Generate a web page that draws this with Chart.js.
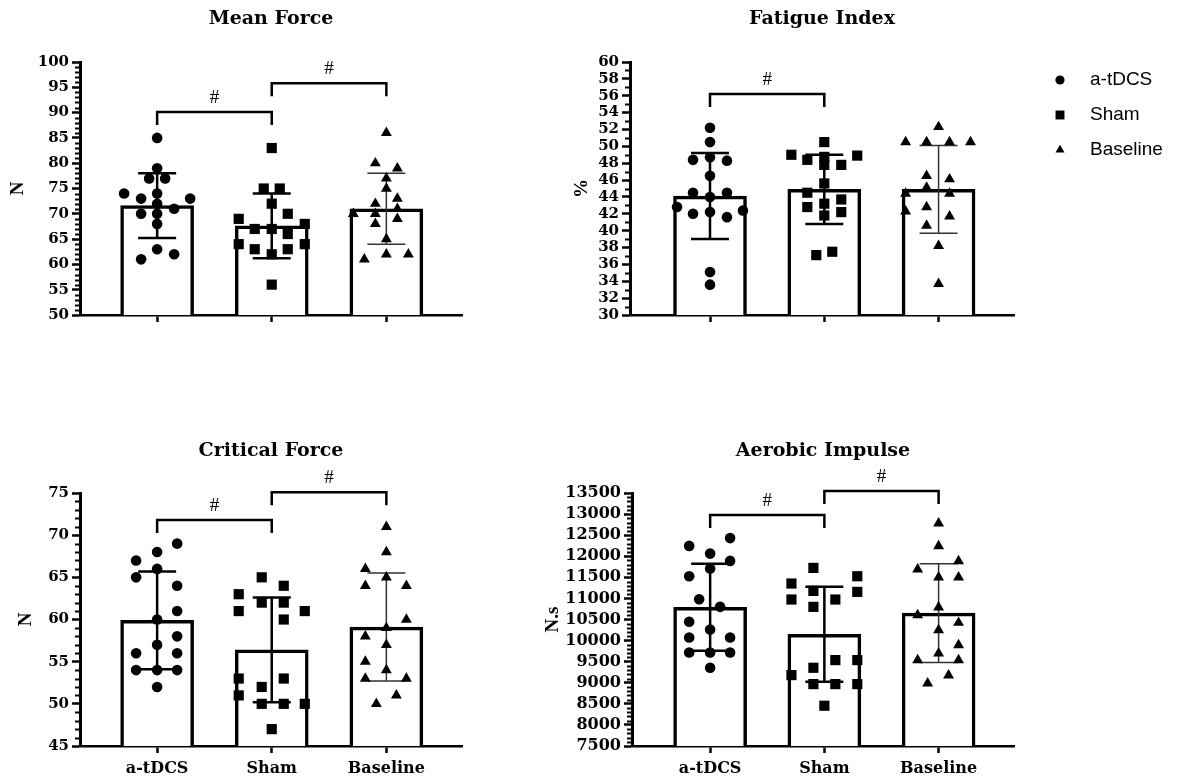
<!doctype html>
<html lang="en">
  <head>
    <meta charset="utf-8">
    <title>Mean Force, Fatigue Index, Critical Force, Aerobic Impulse</title>
    <style>
      body { margin: 0; background: #fff; }
      canvas { position: absolute; }
    </style>
  </head>
  <body>
    <canvas id="meanForce" width="540" height="345" style="left:0;top:0"></canvas>
    <canvas id="fatigueIndex" width="637" height="345" style="left:540px;top:0"></canvas>
    <canvas id="criticalForce" width="540" height="342" style="left:0;top:440px"></canvas>
    <canvas id="aerobicImpulse" width="540" height="342" style="left:540px;top:440px"></canvas>
    <script src="https://cdn.jsdelivr.net/npm/chart.js"></script>
    <script>
      const groups = ['a-tDCS', 'Sham', 'Baseline'];

      // Mean Force (N)
      const mfTdcs = [85, 79, 77, 77, 74, 74, 73, 73, 72, 70, 70, 71, 68, 63, 61, 62];
      const mfSham = [83, 75, 75, 72, 70, 69, 68, 67, 67, 66, 64, 64, 63, 63, 62, 56];
      const mfBase = [86, 80, 79, 77, 75, 73, 72, 71, 70, 70, 69, 68, 65, 61, 62, 62];
      const mfMean = [71.6, 67.6, 71.0];
      const mfSd = [6.4, 6.4, 7.0];
      const mfSig = [[1, 2, 90.1], [2, 3, 95.8]];

      // Fatigue Index (%)
      const fiTdcs = [52.2, 50.5, 48.4, 48.7, 48.3, 46.5, 44.5, 44.5, 44.0, 42.8, 42.4, 42.0, 42.2, 41.6, 35.1, 33.6];
      const fiSham = [50.5, 49.0, 48.9, 48.4, 48.75, 47.8, 47.8, 45.6, 44.5, 43.2, 43.7, 42.8, 42.2, 41.8, 37.1, 37.5];
      const fiBase = [52.3, 50.5, 50.5, 50.5, 50.5, 46.5, 46.1, 44.4, 45.1, 44.4, 42.3, 42.8, 41.7, 40.6, 38.2, 33.7];
      const fiMean = [44.1, 44.9, 44.9];
      const fiSd = [5.1, 4.1, 5.2];
      const fiSig = [[1, 2, 56.2]];

      // Critical Force (N)
      const cfTdcs = [69, 68, 67, 66, 65, 64, 61, 60, 58, 57, 56, 56, 54, 54, 54, 52];
      const cfSham = [65, 64, 63, 62, 62, 61, 61, 60, 53, 53, 52, 51, 50, 50, 50, 47];
      const cfBase = [71, 68, 66, 65, 64, 64, 60, 59, 58, 57, 55, 54, 53, 53, 51, 50];
      const cfMean = [59.9, 56.4, 59.1];
      const cfSd = [5.8, 6.2, 6.4];
      const cfSig = [[1, 2, 71.8], [2, 3, 75.1]];

      // Aerobic Impulse (N.s)
      const aiTdcs = [12430, 12245, 12063, 11890, 11708, 11526, 10982, 10800, 10445, 10263, 10074, 10074, 9718, 9718, 9718, 9355];
      const aiSham = [11724, 11353, 11526, 11179, 11155, 10974, 10974, 10800, 9355, 9537, 9537, 9182, 8968, 8968, 8968, 8455];
      const aiBase = [12781, 12243, 11887, 11690, 11500, 11500, 10789, 10607, 10424, 10251, 9895, 9698, 9540, 9540, 9177, 8987];
      const aiMean = [10790, 10150, 10650];
      const aiSd = [1030, 1125, 1170];
      const aiSig = [[1, 2, 12980], [2, 3, 13550]];

      // horizontal scatter of the dots inside a column, in px
      const mfJit = [
        [0, 0, -8, 8, -33, 0, -16, 33, 0, -16, 0, 17, 0, 0, -16, 17],
        [0, -8, 8, 0, 16, -33, 33, -17, 0, 16, -33, 33, -17, 16, 0, 0],
        [0, -11, 11, 0, 0, 11, -11, 11, -33, -11, 11, -11, 0, -22, 0, 22]
      ];
      const fiJit = [
        [0, 0, -17, 0, 17, 0, -17, 17, 0, -33, 33, -17, 0, 17, 0, 0],
        [0, -33, 33, -17, 0, 0, 17, 0, -17, 0, 17, -17, 17, 0, -8, 8],
        [0, -33, -12, 11, 32, -12, 11, -33, -12, 11, -33, -12, 11, -12, 0, 0]
      ];
      const cfJit = [
        [20, 0, -21, 0, -21, 20, 20, 0, 20, 0, -21, 20, -21, 0, 20, 0],
        [-10, 12, -33, -10, 12, -33, 33, 12, -33, 12, -10, -33, -10, 12, 33, 0],
        [0, 0, -21, 0, -21, 20, 20, 0, -21, 0, -21, 0, -21, 20, 10, -10]
      ];
      const aiJit = [
        [20, -21, 0, 20, 0, -21, -11, 10, -21, 0, -21, 20, -21, 0, 20, 0],
        [-11, -33, 33, -11, 33, -33, 11, -11, -11, 11, 33, -33, -11, 11, 33, 0],
        [0, 0, 20, -21, 0, 20, 0, -21, 20, 0, 20, 0, -21, 20, 10, -11]
      ];

      const serif = "'DejaVu Serif', serif";
      const pxPerUnit = 114.5;
      const marks = [
        { style: 'circle', radius: 5.3, legend: 4.6 },
        { style: 'rect', radius: 7.2, legend: 6.3 },
        { style: 'triangle', radius: 6.3, legend: 5.2 }
      ];

      function points(values, jit, g) {
        return values.map((v, i) => ({ x: g + 1 + jit[i] / pxPerUnit, y: v }));
      }

      const errorBars = {
        id: 'errorBars',
        afterDatasetDraw(chart, args, opts) {
          if (args.meta.type !== 'bar') return;
          const { x, y } = chart.scales;
          const ctx = chart.ctx;
          opts.means.forEach((m, i) => {
            const cx = x.getPixelForValue(i + 1);
            const top = y.getPixelForValue(m + opts.sd[i]);
            const bot = y.getPixelForValue(m - opts.sd[i]);
            ctx.save();
            ctx.strokeStyle = i === 2 ? '#333' : '#000';
            ctx.lineWidth = i === 2 ? 1.5 : 2.5;
            ctx.beginPath();
            ctx.moveTo(cx, top); ctx.lineTo(cx, bot);
            ctx.moveTo(cx - 19, top); ctx.lineTo(cx + 19, top);
            ctx.moveTo(cx - 19, bot); ctx.lineTo(cx + 19, bot);
            ctx.stroke();
            ctx.restore();
          });
        }
      };

      const extras = {
        id: 'extras',
        afterDraw(chart, args, opts) {
          const { x, y } = chart.scales;
          const ctx = chart.ctx;
          ctx.save();
          // minor ticks on the y axis
          ctx.strokeStyle = '#000';
          ctx.lineWidth = 2;
          const n = Math.round((y.max - y.min) / opts.minor);
          for (let k = 0; k <= n; k++) {
            const v = y.min + k * opts.minor;
            if (Math.abs(v / opts.major - Math.round(v / opts.major)) < 1e-6) continue;
            const py = Math.round(y.getPixelForValue(v)) + 0.5;
            ctx.beginPath();
            ctx.moveTo(y.right - 5, py);
            ctx.lineTo(y.right, py);
            ctx.stroke();
          }
          // significance brackets
          ctx.lineWidth = 2.5;
          ctx.fillStyle = '#000';
          ctx.font = "19px 'Liberation Serif', serif";
          ctx.textAlign = 'center';
          ctx.textBaseline = 'middle';
          opts.sig.forEach(([a, b, v]) => {
            const x1 = x.getPixelForValue(a);
            const x2 = x.getPixelForValue(b);
            const py = y.getPixelForValue(v);
            ctx.beginPath();
            ctx.moveTo(x1, py + 13); ctx.lineTo(x1, py);
            ctx.lineTo(x2, py); ctx.lineTo(x2, py + 13);
            ctx.stroke();
            ctx.fillText('#', (x1 + x2) / 2, py - 14);
          });
          // legend
          if (opts.legend) {
            ctx.textAlign = 'left';
            ctx.font = "19px 'Liberation Sans', Arial, sans-serif";
            groups.forEach((name, g) => {
              const ly = 80 + g * 35;
              Chart.helpers.drawPoint(ctx, { pointStyle: marks[g].style, radius: marks[g].legend, rotation: 0, borderWidth: 0 }, 520, ly);
              ctx.fillText(name, 550, ly);
            });
          }
          ctx.restore();
        }
      };

      function makePanel(id, p) {
        const datasets = p.sets.map((vals, g) => ({
          type: 'scatter',
          label: groups[g],
          data: points(vals, p.jit[g], g),
          pointStyle: marks[g].style,
          pointRadius: marks[g].radius,
          backgroundColor: '#000',
          borderWidth: 0
        }));
        datasets.push({
          type: 'bar',
          label: 'mean',
          data: p.mean.map((m, i) => ({ x: i + 1, y: m })),
          backgroundColor: '#fff',
          borderColor: '#000',
          borderWidth: 3.5,
          barThickness: 73
        });
        return new Chart(document.getElementById(id), {
          type: 'bar',
          data: { datasets },
          plugins: [errorBars, extras],
          options: {
            responsive: false,
            devicePixelRatio: 1,
            animation: false,
            events: [],
            layout: { padding: { right: p.padRight } },
            scales: {
              x: {
                type: 'linear',
                min: p.xMin,
                max: 3.66,
                offset: false,
                afterBuildTicks: s => { s.ticks = [1, 2, 3].map(v => ({ value: v })); },
                afterFit: s => { s.height = p.xH; },
                border: { color: '#000', width: 2.5 },
                grid: { drawOnChartArea: false, offset: false, tickLength: 7, tickWidth: 2.5, tickColor: '#000' },
                ticks: {
                  autoSkip: false, maxRotation: 0, padding: 6, color: '#000',
                  font: { family: serif, weight: 'bold', size: 16 },
                  callback: v => p.showX ? groups[v - 1] : ''
                }
              },
              y: {
                min: p.yMin,
                max: p.yMax,
                afterFit: s => { s.width = p.yW; },
                border: { color: '#000', width: 3 },
                grid: { drawOnChartArea: false, tickLength: 8, tickWidth: 2.5, tickColor: '#000' },
                ticks: {
                  stepSize: p.major, autoSkip: false, padding: 3, color: '#000',
                  font: { family: serif, weight: 'bold', size: p.tickSize },
                  callback: v => String(v)
                },
                title: {
                  display: true, text: p.yTitle, color: '#000',
                  font: { family: "'Liberation Serif', serif", weight: 'bold', size: 19 },
                  padding: { top: p.yTitlePad, bottom: 0 }
                }
              }
            },
            plugins: {
              legend: { display: false },
              tooltip: { enabled: false },
              title: {
                display: true, text: p.title, fullSize: false, color: '#000',
                font: { family: serif, weight: 'bold', size: 19 },
                padding: { top: p.tTop, bottom: p.tBottom }
              },
              errorBars: { means: p.mean, sd: p.sd },
              extras: { minor: p.minor, major: p.major, sig: p.sig, legend: !!p.legend }
            }
          }
        });
      }

      makePanel('meanForce', {
        title: 'Mean Force', yTitle: 'N', sets: [mfTdcs, mfSham, mfBase], jit: mfJit,
        mean: mfMean, sd: mfSd, sig: mfSig, yMin: 50, yMax: 100, major: 5, minor: 1,
        xMin: 0.327, yW: 80, xH: 30, padRight: 78, tTop: 8, tBottom: 31.2,
        yTitlePad: 7, tickSize: 15, showX: false
      });
      makePanel('fatigueIndex', {
        title: 'Fatigue Index', yTitle: '%', sets: [fiTdcs, fiSham, fiBase], jit: fiJit,
        mean: fiMean, sd: fiSd, sig: fiSig, yMin: 30, yMax: 60, major: 2, minor: 1,
        xMin: 0.30, yW: 90, xH: 30, padRight: 163, tTop: 8, tBottom: 31.2,
        yTitlePad: 31, tickSize: 15, showX: false, legend: true
      });
      makePanel('criticalForce', {
        title: 'Critical Force', yTitle: 'N', sets: [cfTdcs, cfSham, cfBase], jit: cfJit,
        mean: cfMean, sd: cfSd, sig: cfSig, yMin: 45, yMax: 75, major: 5, minor: 1,
        xMin: 0.327, yW: 80, xH: 36, padRight: 78, tTop: 0, tBottom: 30.2,
        yTitlePad: 15, tickSize: 15, showX: true
      });
      makePanel('aerobicImpulse', {
        title: 'Aerobic Impulse', yTitle: 'N.s', sets: [aiTdcs, aiSham, aiBase], jit: aiJit,
        mean: aiMean, sd: aiSd, sig: aiSig, yMin: 7500, yMax: 13500, major: 500, minor: 100,
        xMin: 0.316, yW: 92, xH: 36, padRight: 66, tTop: 0, tBottom: 30.2,
        yTitlePad: 2, tickSize: 16, showX: true
      });
    </script>
  </body>
</html>
